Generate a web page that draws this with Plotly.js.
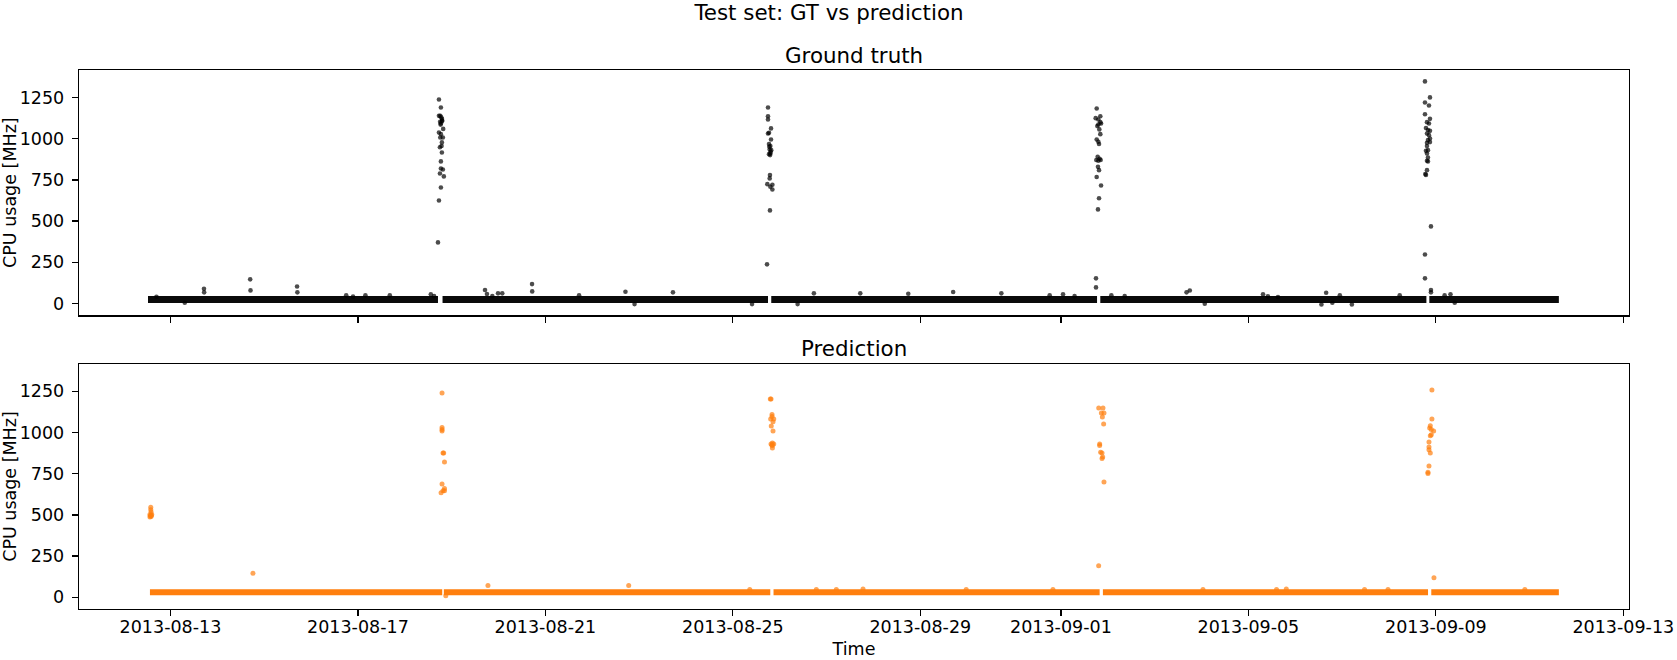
<!DOCTYPE html>
<html>
<head>
<meta charset="utf-8">
<script src="https://cdn.plot.ly/plotly-3.0.1.min.js"></script>
<style>html,body{margin:0;padding:0;background:#fff;}#chart{width:1677px;height:660px;}</style>
</head>
<body>
<div id="chart"></div>
<script>
// ---------- data ----------
const xTickVals = ['2013-08-13','2013-08-17','2013-08-21','2013-08-25','2013-08-29','2013-09-01','2013-09-05','2013-09-09','2013-09-13'];
const xTickText = ['2013-08-13','2013-08-17','2013-08-21','2013-08-25','2013-08-29','2013-09-01','2013-09-05','2013-09-09','2013-09-13'];
const yTickVals = [0, 250, 500, 750, 1000, 1250];

// dense baseline band (continuous runs of points), ground truth
const gtBandStart = ['2013-08-12 12:30','2013-08-18 19:20','2013-08-25 19:40','2013-09-01 20:10','2013-09-08 20:40'];
const gtBandEnd   = ['2013-08-18 17:00','2013-08-25 18:00','2013-09-01 18:30','2013-09-08 19:10','2013-09-11 15:00'];
const gtBandLevel = [25, 25, 25, 25, 25];

// ground-truth spike points
const gtSpikeTimes = [
 '2013-08-18 17:30','2013-08-18 18:30','2013-08-18 17:30','2013-08-18 18:10','2013-08-18 18:40','2013-08-18 19:00','2013-08-18 19:10','2013-08-18 19:00','2013-08-18 18:05','2013-08-18 18:30','2013-08-18 18:20','2013-08-18 19:40','2013-08-18 17:30','2013-08-18 18:30','2013-08-18 19:30','2013-08-18 18:10','2013-08-18 19:00','2013-08-18 18:50','2013-08-18 18:00','2013-08-18 19:00','2013-08-18 18:30','2013-08-18 18:30','2013-08-18 19:30','2013-08-18 18:00','2013-08-18 20:00','2013-08-18 18:30','2013-08-18 17:30','2013-08-18 17:00',
 '2013-08-25 18:00','2013-08-25 18:00','2013-08-25 18:00','2013-08-25 19:33','2013-08-25 18:31','2013-08-25 18:00','2013-08-25 19:33','2013-08-25 18:31','2013-08-25 19:12','2013-08-25 18:40','2013-08-25 18:52','2013-08-25 19:40','2013-08-25 19:20','2013-08-25 19:12','2013-08-25 18:31','2013-08-25 19:05','2013-08-25 19:00','2013-08-25 18:52','2013-08-25 17:40','2013-08-25 20:15','2013-08-25 19:12','2013-08-25 20:15','2013-08-25 19:00','2013-08-25 17:30',
 '2013-09-01 18:19','2013-09-01 20:11','2013-09-01 17:48','2013-09-01 19:10','2013-09-01 20:11','2013-09-01 20:33','2013-09-01 19:10','2013-09-01 18:39','2013-09-01 19:41','2013-09-01 20:11','2013-09-01 18:19','2013-09-01 19:10','2013-09-01 19:31','2013-09-01 18:49','2013-09-01 19:51','2013-09-01 18:08','2013-09-01 20:21','2013-09-01 19:10','2013-09-01 18:59','2013-09-01 19:31','2013-09-01 18:19','2013-09-01 20:33','2013-09-01 19:31','2013-09-01 18:59','2013-09-01 17:58','2013-09-01 17:58',
 '2013-09-08 18:26','2013-09-08 21:00','2013-09-08 18:26','2013-09-08 20:29','2013-09-08 18:26','2013-09-08 21:00','2013-09-08 19:28','2013-09-08 20:29','2013-09-08 18:56','2013-09-08 19:58','2013-09-08 21:00','2013-09-08 19:28','2013-09-08 20:29','2013-09-08 21:00','2013-09-08 19:58','2013-09-08 21:00','2013-09-08 19:28','2013-09-08 19:28','2013-09-08 19:58','2013-09-08 18:56','2013-09-08 19:28','2013-09-08 19:58','2013-09-08 19:28','2013-09-08 19:58','2013-09-08 19:28','2013-09-08 18:56','2013-09-08 18:36','2013-09-08 21:30','2013-09-08 18:26','2013-09-08 18:26','2013-09-08 21:30','2013-09-08 21:30'
];
const gtSpikeValues = [
 1237,1189,1138,1138,1130,1120,1110,1106,1102,1092,1085,1059,1037,1027,1007,1007,977,955,948,916,862,819,813,789,771,704,625,371,
 1189,1136,1116,1062,1035,1031,995,967,955,950,934,930,920,910,906,900,779,759,724,720,708,692,565,238,
 1183,1136,1124,1116,1100,1092,1086,1076,1056,1027,995,981,967,890,878,870,870,866,829,809,767,716,639,571,153,98,
 1347,1250,1219,1201,1148,1120,1100,1092,1064,1052,1047,1031,1021,1001,991,979,975,955,930,926,910,886,866,862,809,780,785,468,298,153,82,68
];

// ground-truth small excursions off the band
const gtBumpTimes = [
 '2013-08-12 16:50','2013-08-13 07:20','2013-08-13 17:10','2013-08-13 17:15','2013-08-14 16:50','2013-08-14 17:00','2013-08-15 16:50','2013-08-15 17:00',
 '2013-08-16 18:00','2013-08-16 21:30','2013-08-17 03:50','2013-08-17 16:20','2013-08-18 13:20','2013-08-18 15:00',
 '2013-08-19 17:05','2013-08-19 18:05','2013-08-19 20:50','2013-08-19 23:45','2013-08-20 01:55','2013-08-20 17:10','2013-08-20 17:15',
 '2013-08-21 17:15','2013-08-22 17:00','2013-08-22 21:40','2013-08-23 17:20','2013-08-25 09:50','2013-08-26 09:10','2013-08-26 17:30',
 '2013-08-27 17:15','2013-08-28 17:50','2013-08-29 16:50','2013-08-30 17:30','2013-08-31 18:15','2013-09-01 01:05','2013-09-01 07:00',
 '2013-09-02 01:50','2013-09-02 08:40','2013-09-03 16:20','2013-09-03 18:00','2013-09-04 01:40','2013-09-05 07:30','2013-09-05 10:00','2013-09-05 15:10',
 '2013-09-06 13:25','2013-09-06 15:50','2013-09-06 19:00','2013-09-06 22:50','2013-09-07 05:00','2013-09-08 05:30',
 '2013-09-09 04:30','2013-09-09 07:30','2013-09-09 09:40'
];
const gtBumpValues = [
 41,5,90,68,147,80,104,68,
 50,42,50,50,56,45,
 82,58,45,62,62,118,74,
 50,72,-3,68,-3,-3,62,
 62,60,70,62,50,56,45,
 50,45,68,79,-1,56,44,40,
 -5,66,5,50,-5,50,
 50,56,5
];

// prediction baseline band
const predBandStart = ['2013-08-12 13:30','2013-08-18 20:00','2013-08-25 20:50','2013-09-01 21:30','2013-09-08 21:40'];
const predBandEnd   = ['2013-08-18 19:10','2013-08-25 19:10','2013-09-01 19:50','2013-09-08 20:00','2013-09-11 15:00'];
const predBandLevel = [30, 30, 30, 30, 30];

// prediction spike points
const predSpikeTimes = [
 '2013-08-12 13:55','2013-08-12 13:55','2013-08-12 14:05','2013-08-12 13:30','2013-08-12 14:25','2013-08-12 13:30','2013-08-12 14:05','2013-08-12 13:40','2013-08-12 14:10',
 '2013-08-18 19:05','2013-08-18 19:05','2013-08-18 19:05','2013-08-18 19:05','2013-08-18 19:35','2013-08-18 19:55','2013-08-18 20:20','2013-08-18 19:05','2013-08-18 20:20','2013-08-18 19:35','2013-08-18 18:35','2013-08-18 20:20',
 '2013-08-25 19:12','2013-08-25 19:33','2013-08-25 20:04','2013-08-25 20:04','2013-08-25 19:22','2013-08-25 20:56','2013-08-25 20:34','2013-08-25 19:40','2013-08-25 20:34','2013-08-25 20:15','2013-08-25 19:33','2013-08-25 20:56','2013-08-25 20:00','2013-08-25 20:15','2013-08-25 20:15',
 '2013-09-01 19:22','2013-09-01 21:33','2013-09-01 20:43','2013-09-01 22:03','2013-09-01 21:14','2013-09-01 21:53','2013-09-01 19:51','2013-09-01 19:51','2013-09-01 20:21','2013-09-01 21:03','2013-09-01 21:23','2013-09-01 21:03','2013-09-01 22:03','2013-09-01 19:20',
 '2013-09-08 22:00','2013-09-08 22:00','2013-09-08 21:10','2013-09-08 20:50','2013-09-08 21:40','2013-09-08 22:52','2013-09-08 21:40','2013-09-08 21:10','2013-09-08 20:29','2013-09-08 20:29','2013-09-08 20:29','2013-09-08 21:10','2013-09-08 20:29','2013-09-08 19:58','2013-09-08 19:58','2013-09-08 23:02'
];
const predSpikeValues = [
 546,532,518,502,502,488,491,495,497,
 1240,1030,1018,1010,876,876,822,688,661,647,635,647,
 1204,1204,1109,1098,1083,1083,1066,1040,1010,937,931,931,925,921,907,
 1149,1149,1119,1119,1095,1052,931,921,880,876,852,842,700,192,
 1258,1082,1042,1028,1018,1010,987,981,943,913,896,876,797,759,751,118
];

// prediction small excursions off the band
const predBumpTimes = [
 '2013-08-14 18:15','2013-08-18 21:00','2013-08-19 18:35','2013-08-22 18:40','2013-08-25 08:40','2013-08-26 18:45','2013-08-27 05:00','2013-08-27 18:40',
 '2013-08-29 23:30','2013-08-31 19:55','2013-09-04 00:45','2013-09-05 14:25','2013-09-05 19:25','2013-09-07 11:30','2013-09-07 23:30','2013-09-10 21:35'
];
const predBumpValues = [146,10,71,71,48,48,48,50,48,48,48,48,50,48,48,48];

// ---------- build traces ----------
function bandXY(starts, ends, levels) {
  const x = [], y = [];
  for (let i = 0; i < starts.length; i++) {
    x.push(starts[i], ends[i], null);
    y.push(levels[i], levels[i], null);
  }
  return {x, y};
}
const gtBand = bandXY(gtBandStart, gtBandEnd, gtBandLevel);
const predBand = bandXY(predBandStart, predBandEnd, predBandLevel);

const GT_COLOR = 'rgba(0,0,0,0.7)';
const PRED_COLOR = 'rgba(255,127,14,0.7)';

const traces = [
  {x: gtBand.x, y: gtBand.y, xaxis: 'x', yaxis: 'y', mode: 'lines', type: 'scatter',
   line: {color: '#0a0a0a', width: 7}, hoverinfo: 'skip', showlegend: false},
  {x: gtSpikeTimes.concat(gtBumpTimes), y: gtSpikeValues.concat(gtBumpValues), xaxis: 'x', yaxis: 'y',
   mode: 'markers', type: 'scatter', marker: {color: GT_COLOR, size: 4.6, line: {width: 0}}, showlegend: false},
  {x: predBand.x, y: predBand.y, xaxis: 'x2', yaxis: 'y2', mode: 'lines', type: 'scatter',
   line: {color: '#ff7f0e', width: 6}, hoverinfo: 'skip', showlegend: false},
  {x: predSpikeTimes.concat(predBumpTimes), y: predSpikeValues.concat(predBumpValues), xaxis: 'x2', yaxis: 'y2',
   mode: 'markers', type: 'scatter', marker: {color: PRED_COLOR, size: 5, line: {width: 0}}, showlegend: false}
];

const FONT = 'DejaVu Sans, sans-serif';
const xRange = ['2013-08-11 01:10', '2013-09-13 02:55'];
const yRange = [-71, 1416];

const axisCommon = {
  showline: true, linecolor: '#000', linewidth: 1.3, mirror: true,
  ticks: 'outside', ticklen: 6, tickwidth: 1.3, tickcolor: '#000',
  showgrid: false, zeroline: false,
  tickfont: {family: FONT, size: 17.5, color: '#000'}
};

const layout = {
  width: 1677, height: 660,
  paper_bgcolor: '#fff', plot_bgcolor: '#fff',
  margin: {l: 79, r: 48, t: 70, b: 51, pad: 0},
  font: {family: FONT, color: '#000'},
  title: {text: 'Test set: GT vs prediction', font: {family: FONT, size: 21.4, color: '#000'},
          x: 829 / 1677, xref: 'container', xanchor: 'center', y: 1 - 12 / 660, yref: 'container', yanchor: 'middle'},
  xaxis: Object.assign({}, axisCommon, {domain: [0, 1], anchor: 'y', type: 'date', range: xRange,
          tickmode: 'array', tickvals: xTickVals, ticktext: xTickText, showticklabels: false}),
  xaxis2: Object.assign({}, axisCommon, {domain: [0, 1], anchor: 'y2', type: 'date', range: xRange, matches: 'x',
          tickmode: 'array', tickvals: xTickVals, ticktext: xTickText, ticklabelstandoff: -4,
          title: {text: 'Time', font: {family: FONT, size: 17.5, color: '#000'}, standoff: 6}}),
  yaxis: Object.assign({}, axisCommon, {domain: [0.5449, 1], anchor: 'x', range: yRange,
          tickmode: 'array', tickvals: yTickVals, ticklabelstandoff: 4,
          title: {text: 'CPU usage [MHz]', font: {family: FONT, size: 17.5, color: '#000'}, standoff: 10}}),
  yaxis2: Object.assign({}, axisCommon, {domain: [0, 0.4545], anchor: 'x2', range: yRange,
          tickmode: 'array', tickvals: yTickVals, ticklabelstandoff: 4,
          title: {text: 'CPU usage [MHz]', font: {family: FONT, size: 17.5, color: '#000'}, standoff: 10}}),
  annotations: [
    {text: 'Ground truth', xref: 'paper', yref: 'paper', x: 0.5, y: 1, xanchor: 'center', yanchor: 'bottom',
     showarrow: false, font: {family: FONT, size: 21.4, color: '#000'}},
    {text: 'Prediction', xref: 'paper', yref: 'paper', x: 0.5, y: 0.4545 + 1 / 539, xanchor: 'center', yanchor: 'bottom',
     showarrow: false, font: {family: FONT, size: 21.4, color: '#000'}}
  ],
  hovermode: false
};

Plotly.newPlot('chart', traces, layout, {displayModeBar: false, staticPlot: true});
</script>
</body>
</html>
